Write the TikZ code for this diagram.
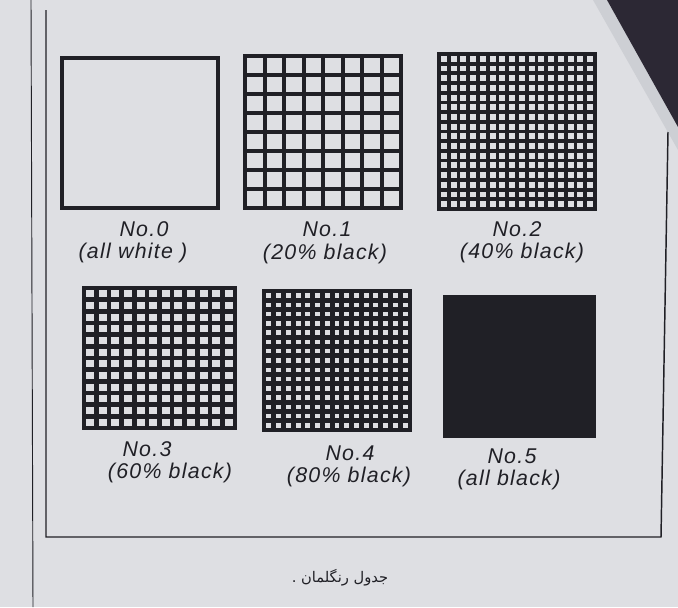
\documentclass[tikz,border=0pt]{standalone}
\usepackage{fontspec}
\setmainfont{Liberation Sans}
\newfontfamily\labelfont[LetterSpace=6]{Liberation Sans}
\newfontfamily\arabicfont[Script=Arabic]{DejaVu Sans}
\TeXXeTstate=1
\definecolor{ink}{RGB}{32,32,38}
\definecolor{paper}{RGB}{222,223,227}
\definecolor{darkbg}{RGB}{44,40,52}
\definecolor{edge}{RGB}{205,207,212}
\newcommand\ringgrid[6]{%
  \pgfmathsetmacro\rgdx{(#3-#1)/#5}%
  \pgfmathsetmacro\rgdy{(#4-#2)/#5}%
  \pgfmathtruncatemacro\rgm{#5-1}%
  \foreach \i in {1,...,\rgm}{%
    \draw[gridline,line width=#6] ({#1+\i*\rgdx},#2) -- ({#1+\i*\rgdx},#4);
    \draw[gridline,line width=#6] (#1,{#2+\i*\rgdy}) -- (#3,{#2+\i*\rgdy});
  }%
  \draw[gridline,line width=#6] (#1,#2) rectangle (#3,#4);
}
\tikzset{
  gridline/.style={draw=ink},
  numlabel/.style={font=\labelfont\fontsize{16}{18}\selectfont\itshape, text=ink, inner sep=0pt, anchor=center},
  framline/.style={draw=ink, line width=1.1pt},
}
\begin{document}
\begin{tikzpicture}[x=0.75pt,y=-0.75pt]
\useasboundingbox (0,0) rectangle (678,607);
\fill[paper] (0,0) rectangle (678,607);
% dark background top right and paper edge
\fill[edge] (593,0) -- (607,0) -- (678,127) -- (678,150) -- cycle;
\fill[darkbg] (607,0) -- (678,0) -- (678,127) -- cycle;
% frame lines
\draw[framline, line width=0.7pt] (31,0) -- (33,607);
\draw[framline] (46,10) -- (46,537) -- (661,537) -- (668,132);
% No.0
\draw[gridline, line width=2.4pt] (62,58) rectangle (218,208);
% No.1
\ringgrid{245}{56}{401}{208}{8}{3pt}
% No.2
\ringgrid{439}{54}{595}{209}{16}{2.9pt}
% No.3
\ringgrid{84}{288}{235}{428}{12}{3.4pt}
% No.4
\ringgrid{264}{291}{410}{430}{15}{3.6pt}
% No.5
\fill[ink] (443,295) rectangle (596,438);
% labels
\node[numlabel] (n0) at (144,229) {No.0};
\node[numlabel] (d0) at (133,253) {(all white )};
\node[numlabel] (n1) at (327,229) {No.1};
\node[numlabel] (d1) at (325,254) {(20\% black)};
\node[numlabel] (n2) at (517,229) {No.2};
\node[numlabel] (d2) at (522,253) {(40\% black)};
\node[numlabel] (n3) at (147,449) {No.3};
\node[numlabel] (d3) at (170,473) {(60\% black)};
\node[numlabel] (n4) at (350,453) {No.4};
\node[numlabel] (d4) at (349,477) {(80\% black)};
\node[numlabel] (n5) at (512,456) {No.5};
\node[numlabel] (d5) at (509,480) {(all black)};
% caption
\node[text=ink, inner sep=0pt] (cap) at (340,578) {\arabicfont\fontsize{11}{13}\selectfont\beginR جدول رنگلمان .\endR};
\end{tikzpicture}
\end{document}
